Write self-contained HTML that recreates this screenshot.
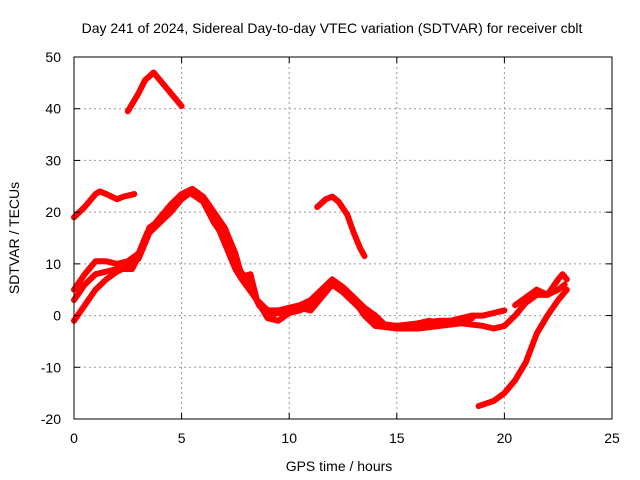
<!DOCTYPE html>
<html><head><meta charset="utf-8"><style>
body{margin:0;background:#fff}
svg{display:block;font-family:"Liberation Sans",sans-serif}
</style></head><body>
<svg id="chart" width="640" height="480">
<rect width="640" height="480" fill="#fff"/>
<text x="332" y="33" font-size="14" text-anchor="middle">Day 241 of 2024, Sidereal Day-to-day VTEC variation (SDTVAR) for receiver cblt</text>
<g id="grid"></g>
<g id="series"></g>
<rect x="74" y="57" width="538" height="362" fill="none" stroke="#000" stroke-width="1"/>
<g id="ticks"></g>
<text x="339" y="471" font-size="14" text-anchor="middle">GPS time / hours</text>
<text transform="translate(19,238) rotate(-90)" font-size="14" text-anchor="middle">SDTVAR / TECUs</text>
</svg>
<script>
const xTicks=[0,5,10,15,20,25];
const yTicks=[-20,-10,0,10,20,30,40,50];
const seriesA=[[2.5,39.5],[3.0,43],[3.3,45.5],[3.7,47],[4.0,45.5],[4.5,43],[4.8,41.5],[5.0,40.5]];
const seriesB=[[0,19],[0.5,21],[1.0,23.5],[1.2,24],[1.5,23.5],[2.0,22.5],[2.3,23],[2.8,23.5]];
const seriesC=[[11.3,21],[11.7,22.5],[12.0,23],[12.3,22],[12.7,19.5],[13.0,16],[13.3,13],[13.5,11.5]];
const seriesD1=[[0,5],[0.5,8],[1,10.5],[1.5,10.5],[2,10],[2.5,10.5],[3,12],[3.4,16],[4,19],[4.5,21.5],[5,23.5],[5.5,24.5],[6,23],[6.5,20],[7,17],[7.5,12],[7.8,7.5],[8.2,8],[8.5,3],[9,1],[9.5,1],[10,1.5],[10.5,2],[11,3],[11.5,5],[12,7],[12.5,5.5],[13,3.5],[13.5,1.5],[14,0],[14.5,-2],[15,-2.5],[15.5,-2],[16,-1.5],[16.5,-1],[17,-1.5],[17.5,-1],[18,-0.5],[18.5,0],[19,0],[19.5,0.5],[20,1]];
const seriesD2=[[0,-1],[0.5,2],[1,5],[1.5,7],[2,8.5],[2.5,9.5],[3,11],[3.5,16],[4,18],[4.5,20],[5,22.5],[5.5,24],[6,22.5],[6.5,19],[7,14],[7.5,9],[7.8,7],[8.5,3],[9,-0.5],[9.5,-1],[10,0.5],[10.5,1],[11,2],[11.5,4.5],[12,6.5],[12.5,5],[13,3],[13.5,0],[14,-2],[15,-2.5],[16,-2.5],[17,-2],[18,-1.5],[19,-2],[19.5,-2.5],[20,-2],[20.5,0],[21,2.5],[21.5,4],[22,4],[22.5,5],[22.8,6]];
const seriesD3=[[0,3],[0.5,6],[1,8],[1.5,8.5],[2,9],[2.7,9],[3.2,13],[3.5,17],[4,18.5],[4.5,21],[5,23],[5.3,24],[6,22],[6.5,18],[7,15],[7.5,10],[8,7],[8.6,2],[9,0],[9.5,0.5],[10,1],[10.5,1.5],[11,1],[11.5,3.5],[12,6],[12.5,4.5],[13,2.5],[13.5,0.5],[14,-1.5],[15,-2],[16,-1.5],[17,-1],[18,-1],[18.5,-0.5]];
const seriesE=[[20.5,2],[21,3.5],[21.5,5],[22,4],[22.5,7],[22.7,8],[22.9,7]];
const seriesF=[[18.8,-17.5],[19.5,-16.5],[20,-15],[20.5,-12.5],[21,-9],[21.5,-3.5],[22,0],[22.5,3],[22.9,5]];
const allSeries=[seriesA,seriesB,seriesC,seriesD1,seriesD2,seriesD3,seriesE,seriesF];
const X0=74,X1=612,Y0=419,Y1=57;
function sx(v){return X0+(v-0)/(25-0)*(X1-X0);}
function sy(v){return Y0-(v+20)/(70)*(Y0-Y1);}
const NS="http://www.w3.org/2000/svg";
const grid=document.getElementById('grid'),ticks=document.getElementById('ticks'),ser=document.getElementById('series');
function mk(tag,attrs,parent){const e=document.createElementNS(NS,tag);for(const k in attrs)e.setAttribute(k,attrs[k]);parent.appendChild(e);return e;}
xTicks.forEach(t=>{
  const x=sx(t);
  if(t>0&&t<25){const g=mk('line',{x1:x,x2:x,y1:Y1,y2:Y0,stroke:'#999','stroke-dasharray':'2,3'},grid);
  
  }
  mk('line',{x1:x,x2:x,y1:Y0,y2:Y0-6,stroke:'#000'},ticks);
  mk('line',{x1:x,x2:x,y1:Y1,y2:Y1+6,stroke:'#000'},ticks);
  const l=mk('text',{x:x,y:Y0+24,'font-size':14,'text-anchor':'middle'},ticks);
  l.textContent=t;
  
  
});
yTicks.forEach(t=>{
  const y=sy(t);
  if(t>-20&&t<50){const g=mk('line',{x1:X0,x2:X1,y1:y,y2:y,stroke:'#999','stroke-dasharray':'2,3'},grid);
  
  }
  mk('line',{x1:X0,x2:X0+6,y1:y,y2:y,stroke:'#000'},ticks);
  mk('line',{x1:X1,x2:X1-6,y1:y,y2:y,stroke:'#000'},ticks);
  const l=mk('text',{x:X0-13,y:y+5,'font-size':14,'text-anchor':'end'},ticks);
  l.textContent=t;
  
  
});
allSeries.forEach((s,i)=>{
  const p=mk('polyline',{points:s.map(d=>sx(d[0])+','+sy(d[1])).join(' '),fill:'none',stroke:'#f00','stroke-width':6,'stroke-linejoin':'round','stroke-linecap':'round'},ser);
  
  
});
</script>
</body></html>
